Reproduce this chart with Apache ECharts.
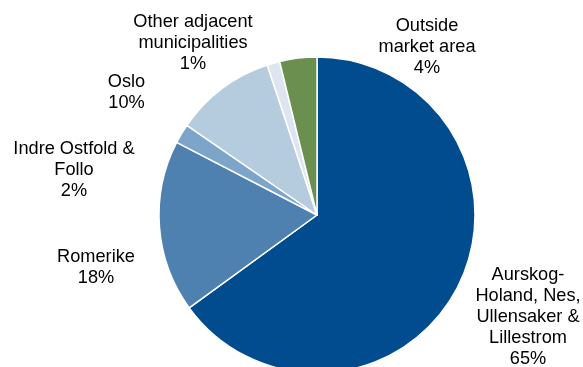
<!DOCTYPE html>
<html>
<head>
<meta charset="utf-8">
<script src="https://cdn.jsdelivr.net/npm/echarts@6/dist/echarts.min.js"></script>
<style>
html,body{margin:0;padding:0;background:#fff;}
#chart{width:583px;height:367px;}
</style>
</head>
<body>
<div id="chart"></div>
<script>
// Data
var categories = [
  "Aurskog-\nHoland, Nes,\nUllensaker &\nLillestrom",
  "Romerike",
  "Indre Ostfold &\nFollo",
  "Oslo",
  "Other adjacent\nmunicipalities",
  "Outside\nmarket area"
];
var shares = [65.0, 17.6, 2.0, 10.3, 1.3, 3.8];
var percentLabels = ["65%", "18%", "2%", "10%", "1%", "4%"];

// Styling / layout (not data)
var colors = ["#004C8E", "#4F81B0", "#7CA5C9", "#B5CBDE", "#DDE6F0", "#6B8F4E"];
var labelPos = [[528, 317], [96, 267.5], [74, 170], [126.5, 92.5], [193, 42.5], [427, 46.5]];

var chart = echarts.init(document.getElementById('chart'), null, {renderer: 'canvas'});
chart.setOption({
  animation: false,
  backgroundColor: '#ffffff',
  series: [{
    type: 'pie',
    center: [317, 215],
    radius: 158,
    startAngle: 90,
    clockwise: true,
    avoidLabelOverlap: false,
    itemStyle: {borderColor: '#ffffff', borderWidth: 1.5},
    label: {
      show: true,
      position: 'outside',
      color: '#000000',
      fontFamily: '"Liberation Sans", Arial, sans-serif',
      fontSize: 18.2,
      lineHeight: 21,
      align: 'center',
      formatter: function (p) { return categories[p.dataIndex] + '\n' + percentLabels[p.dataIndex]; }
    },
    labelLine: {show: false},
    labelLayout: function (p) {
      var pos = labelPos[p.dataIndex];
      return {x: pos[0], y: pos[1], align: 'center', verticalAlign: 'middle'};
    },
    emphasis: {disabled: true},
    data: categories.map(function (c, i) {
      return {name: c, value: shares[i], itemStyle: {color: colors[i]}};
    })
  }]
});
</script>
</body>
</html>
